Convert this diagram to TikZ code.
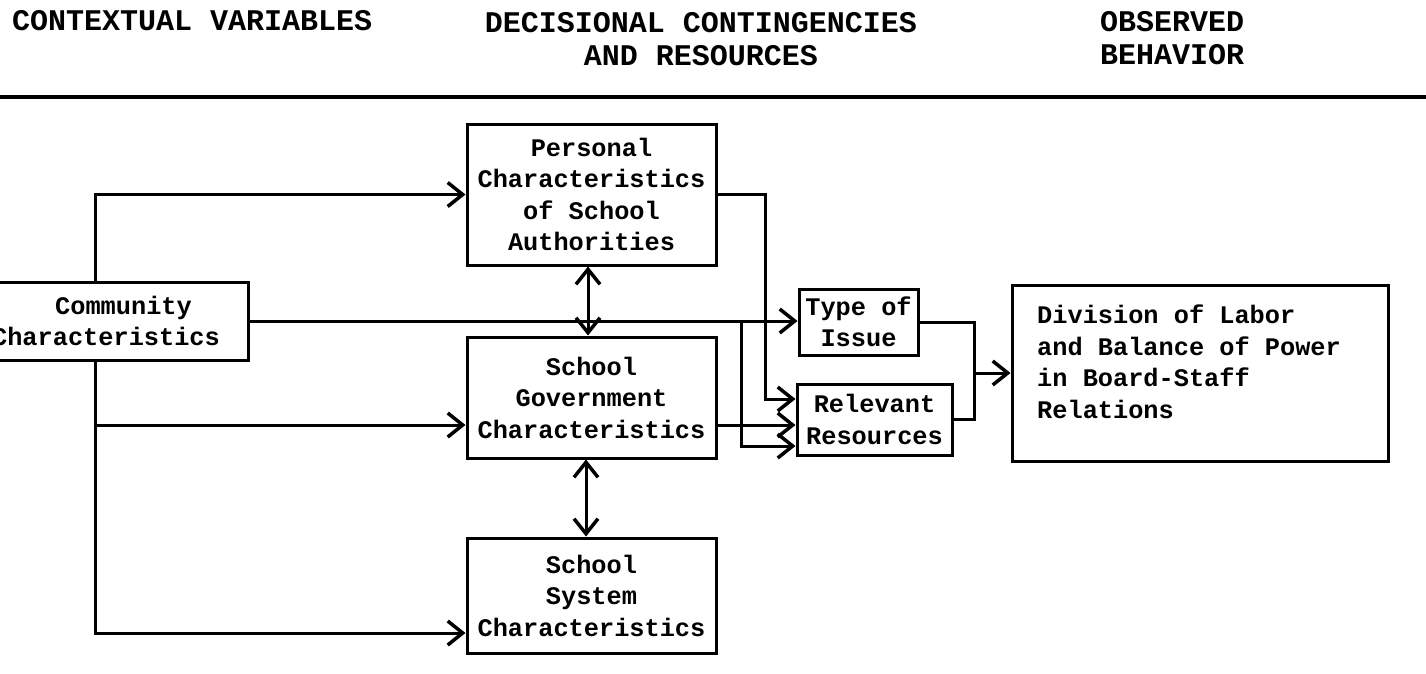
\documentclass[tikz,border=0pt]{standalone}
\usepackage{fontspec}
\setmonofont{Liberation Mono}
\usetikzlibrary{arrows.meta,calc}
\newcommand\boxfont{\ttfamily\bfseries\fontsize{25.3pt}{31.5pt}\selectfont}
\newcommand\headfont{\ttfamily\bfseries\fontsize{30pt}{33pt}\selectfont}
\begin{document}
\begin{tikzpicture}[x=1pt,y=-1pt,
  >={Straight Barb[length=15pt,width=24pt,line width=3.5pt]},
  line/.style={line width=3pt},
  box/.style={draw, line width=3pt, inner sep=0pt, align=center, font=\boxfont},
  head/.style={inner sep=0pt, font=\headfont}]
\useasboundingbox (0,0) rectangle (1426,673);
\fill[white] (0,0) rectangle (1426,673);
% headings
\node[head, anchor=base west] (t1) at (12,30) {CONTEXTUAL VARIABLES};
\node[head, anchor=base, align=center] (t2) at (701,65) {DECISIONAL CONTINGENCIES\\AND RESOURCES};
\node[head, anchor=base west, align=left] (t3) at (1100,64) {OBSERVED\\BEHAVIOR};
\coordinate (ruleL) at (0,97);
\coordinate (ruleR) at (1426,97);
\draw[line width=3.5pt] (ruleL) -- (ruleR);
% boxes
\node[box, minimum width=284pt, minimum height=78pt] (comm) at (106,321) {\hspace*{35pt}Community\\Characteristics};
\node[box, minimum width=249pt, minimum height=141pt] (pers) at (591.5,194.5) {Personal\\Characteristics\\of School\\Authorities};
\node[box, minimum width=249pt, minimum height=121pt] (govt) at (591.5,397.5) {School\\Government\\Characteristics};
\node[box, minimum width=249pt, minimum height=115pt] (sys) at (591.5,595.5) {School\\System\\Characteristics};
\node[box, minimum width=119pt, minimum height=66pt] (toi) at (858.5,322) {Type of\\Issue};
\node[box, minimum width=155pt, minimum height=71pt] (rr) at (874.5,419.5) {Relevant\\Resources};
\node[box, minimum width=376pt, minimum height=176pt] (div) at (1200,373) {};
\node[inner sep=0pt, anchor=base west, align=left, font=\boxfont] (divtxt) at (1037,418) {Division of Labor\\and Balance of Power\\in Board-Staff\\Relations};
% helper coordinates
\coordinate (lx) at (95,0);
\coordinate (yGov) at (0,425);
\coordinate (ySys) at (0,633);
\coordinate (xa) at (588,0);
\coordinate (xb) at (586,0);
\coordinate (xr) at (765,0);
\coordinate (yR1) at (0,399);
\coordinate (xv) at (741,0);
\coordinate (yR3) at (0,446);
\coordinate (xj) at (974,0);
% connectors
\draw[line,->] (comm.north -| lx) |- (pers.west);
\draw[line,->] (comm.south -| lx) |- (sys.west |- ySys);
\draw[line,->] (lx |- yGov) -- (govt.west |- yGov);
\draw[line,->] (comm.east) -- (toi.west |- comm.east);
\draw[line,<->] (pers.south -| xa) -- (govt.north -| xa);
\draw[line,<->] (govt.south -| xb) -- (sys.north -| xb);
\draw[line,->] (pers.east) -| (xr |- yR1) -- (rr.west |- yR1);
\draw[line,->] (govt.east |- yGov) -- (rr.west |- yGov);
\draw[line,->] (xv |- comm.east) |- (rr.west |- yR3);
\draw[line] (toi.east) -| (xj |- rr.east) -- (rr.east);
\draw[line,->] (xj |- div.west) -- (div.west);
\end{tikzpicture}
\end{document}
